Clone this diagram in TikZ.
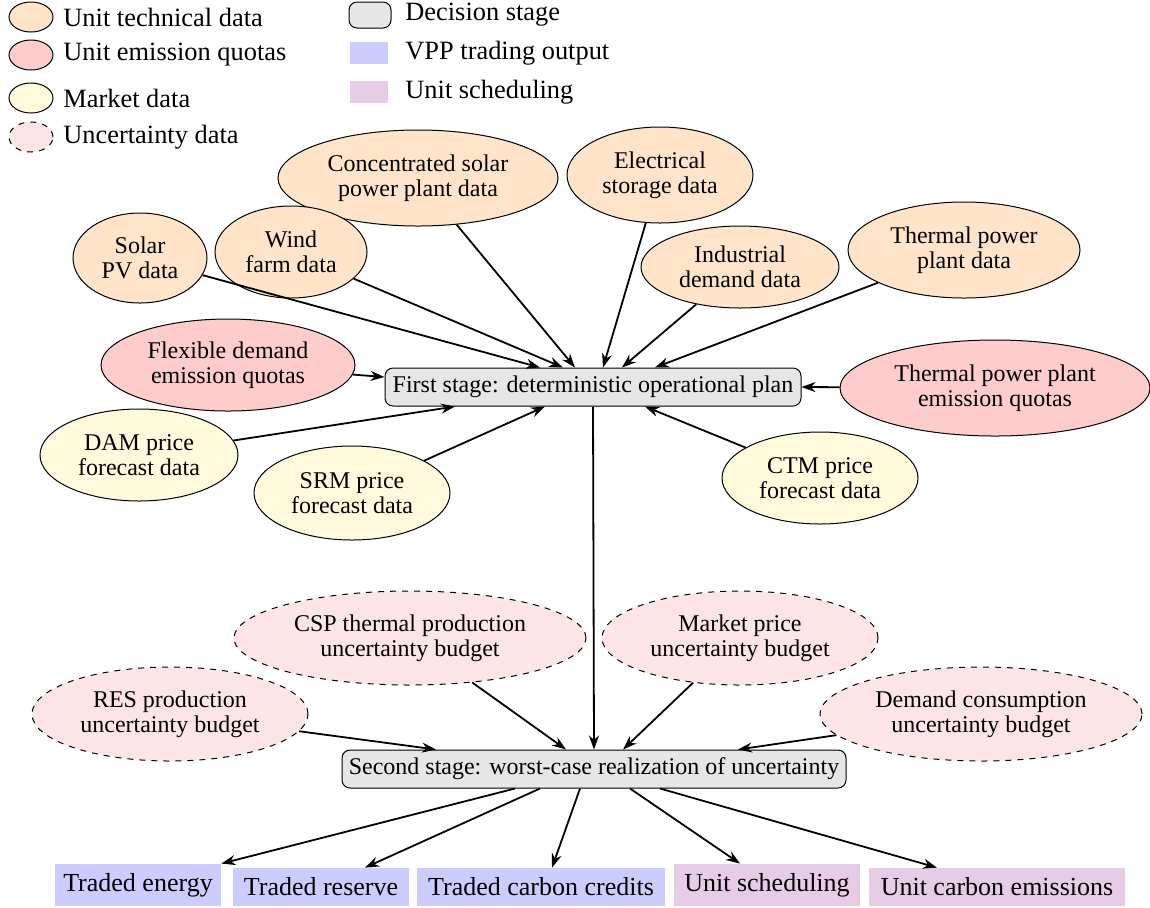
\documentclass[tikz,border=0pt]{standalone}
\usepackage{fontspec}
\setmainfont{Liberation Serif}
\usetikzlibrary{shapes.geometric,arrows.meta,calc}
\definecolor{techc}{HTML}{FFE4C9}
\definecolor{quotac}{HTML}{FFCCCC}
\definecolor{marketc}{HTML}{FFFADC}
\definecolor{uncc}{HTML}{FDE4E6}
\definecolor{stagec}{HTML}{E6E6E6}
\definecolor{vppc}{HTML}{CCCCFF}
\definecolor{schedc}{HTML}{E6CCE6}
\tikzset{
  base/.style={font=\fontsize{12}{12.5}\selectfont, align=center, inner sep=1pt},
  tech/.style={base, ellipse, draw, fill=techc, line width=0.5pt},
  quota/.style={base, ellipse, draw, fill=quotac, line width=0.5pt},
  market/.style={base, ellipse, draw, fill=marketc, line width=0.5pt},
  unc/.style={base, ellipse, draw, dashed, fill=uncc, line width=0.5pt},
  stage/.style={base, rectangle, rounded corners=4pt, draw, fill=stagec, line width=0.5pt},
  vpp/.style={font=\fontsize{13}{14}\selectfont, rectangle, fill=vppc, inner sep=1pt},
  sched/.style={font=\fontsize{13}{14}\selectfont, rectangle, fill=schedc, inner sep=1pt},
  legtext/.style={font=\fontsize{13.2}{14}\selectfont, anchor=west, inner sep=0pt},
  arr/.style={-{Stealth[length=7pt,width=5pt]}, line width=0.9pt},
}
\begin{document}
\begin{tikzpicture}[x=0.5pt,y=-0.5pt]
\useasboundingbox (0,0) rectangle (1150,907);
% legend
\node[tech, minimum width=22pt, minimum height=15pt] (l1) at (31,17) {};
\node[quota, minimum width=22pt, minimum height=15pt] (l2) at (31,55) {};
\node[market, minimum width=22pt, minimum height=15pt] (l3) at (31,98) {};
\node[unc, minimum width=22pt, minimum height=15pt] (l4) at (31,137) {};
\node[legtext] (t1) at (63,17) {Unit technical data};
\node[legtext] (t2) at (63,55) {Unit emission quotas};
\node[legtext] (t3) at (63,98) {Market data};
\node[legtext] (t4) at (63,137) {Uncertainty data};
\node[stage, minimum width=21pt, minimum height=13pt] (l5) at (370,15) {};
\node[vpp, minimum width=19pt, minimum height=11pt] (l6) at (369,53) {};
\node[sched, minimum width=19pt, minimum height=11pt] (l7) at (369,92) {};
\node[legtext] (t5) at (405,15) {Decision stage};
\node[legtext] (t6) at (405,53) {VPP trading output};
\node[legtext] (t7) at (405,92) {Unit scheduling};
% input nodes
\node[tech, minimum width=140pt, minimum height=48pt] (csp) at (418,178) {Concentrated solar\\power plant data};
\node[tech, minimum width=93pt, minimum height=48pt] (sto) at (660,175) {Electrical\\storage data};
\node[tech, minimum width=67pt, minimum height=45pt] (pv) at (140,258) {Solar\\PV data};
\node[tech, minimum width=76pt, minimum height=46pt] (wind) at (291,252) {Wind\\farm data};
\node[tech, minimum width=99pt, minimum height=41pt] (ind) at (740,267) {Industrial\\demand data};
\node[tech, minimum width=116pt, minimum height=48pt] (thp) at (964,250) {Thermal power\\plant data};
\node[quota, minimum width=127pt, minimum height=46pt] (flex) at (228,365) {Flexible demand\\emission quotas};
\node[quota, minimum width=155pt, minimum height=48pt] (thq) at (995,388) {Thermal power plant\\emission quotas};
\node[market, minimum width=99pt, minimum height=46pt] (dam) at (139,455) {DAM price\\forecast data};
\node[market, minimum width=98pt, minimum height=47pt] (srm) at (352,493) {SRM price\\forecast data};
\node[market, minimum width=98pt, minimum height=46pt] (ctm) at (820,478) {CTM price\\forecast data};
\node[stage, minimum width=208pt, minimum height=19pt] (s1) at (593,387) {First stage: deterministic operational plan};
% uncertainty
\node[unc, minimum width=176pt, minimum height=47pt] (cspu) at (410,638) {CSP thermal production\\uncertainty budget};
\node[unc, minimum width=138pt, minimum height=47pt] (mktu) at (740,638) {Market price\\uncertainty budget};
\node[unc, minimum width=138pt, minimum height=47pt] (resu) at (170,714) {RES production\\uncertainty budget};
\node[unc, minimum width=161pt, minimum height=47pt] (demu) at (981,714) {Demand consumption\\uncertainty budget};
\node[stage, minimum width=252pt, minimum height=19pt] (s2) at (594,769) {Second stage: worst-case realization of uncertainty};
% outputs
\node[vpp, minimum width=83pt, minimum height=21pt] (te) at (138,885) {Traded energy};
\node[vpp, minimum width=88pt, minimum height=19pt] (tr) at (321,887) {Traded reserve};
\node[vpp, minimum width=124pt, minimum height=19pt] (tcc) at (541,887) {Traded carbon credits};
\node[sched, minimum width=93pt, minimum height=21pt] (us) at (767,885) {Unit scheduling};
\node[sched, minimum width=128pt, minimum height=19pt] (uce) at (997,887) {Unit carbon emissions};
% arrows into first stage
\draw[arr] (pv) -- ($(s1.north)+(-53,0)$);
\draw[arr] (wind) -- ($(s1.north)+(-30,0)$);
\draw[arr] (csp) -- ($(s1.north)+(-18,0)$);
\draw[arr] (sto) -- ($(s1.north)+(10,0)$);
\draw[arr] (ind) -- ($(s1.north)+(29,0)$);
\draw[arr] (thp) -- ($(s1.north)+(62,0)$);
\draw[arr] (flex) -- ($(s1.west)+(0,-10)$);
\draw[arr] (thq) -- (s1.east);
\draw[arr] (dam) -- ($(s1.south)+(-138,0)$);
\draw[arr] (srm) -- ($(s1.south)+(-48,0)$);
\draw[arr] (ctm) -- ($(s1.south)+(52,0)$);
% first to second
\draw[arr] (s1.south) -- (s2.north);
\draw[arr] (resu) -- ($(s2.north)+(-158,0)$);
\draw[arr] (cspu) -- ($(s2.north)+(-28,0)$);
\draw[arr] (mktu) -- ($(s2.north)+(29,0)$);
\draw[arr] (demu) -- ($(s2.north)+(144,0)$);
% outputs
\draw[arr] ($(s2.south)+(-79,0)$) -- (te.north east);
\draw[arr] ($(s2.south)+(-54,0)$) -- ($(tr.north)+(44,0)$);
\draw[arr] ($(s2.south)+(-14,0)$) -- ($(tcc.north)+(11,0)$);
\draw[arr] ($(s2.south)+(36,0)$) -- ($(us.north)+(-27,0)$);
\draw[arr] ($(s2.south)+(66,0)$) -- ($(uce.north)+(-60,0)$);
\end{tikzpicture}
\end{document}
